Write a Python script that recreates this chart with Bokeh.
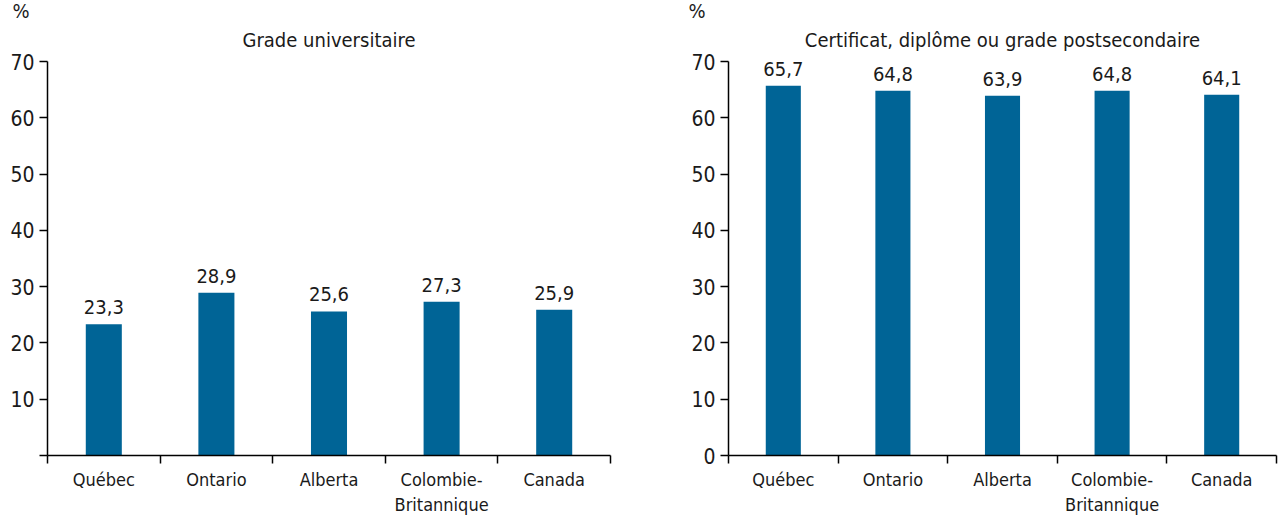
from bokeh.plotting import figure
from bokeh.layouts import row
from bokeh.models import Range1d, FixedTicker, Title, ColumnDataSource
from bokeh.core.properties import value
from bokeh.embed import file_html
from bokeh.resources import INLINE

categories = ["Québec", "Ontario", "Alberta", "Colombie-\nBritannique", "Canada"]
grade_univ = [23.3, 28.9, 25.6, 27.3, 25.9]
postsec = [65.7, 64.8, 63.9, 64.8, 64.1]
titles = ["Grade universitaire", "Certificat, diplôme ou grade postsecondaire"]
unit_label = "%"
y_ticks = [0, 10, 20, 30, 40, 50, 60, 70]

FONT = "DejaVu Sans Condensed"
FONT_V = value(FONT)
BAR = "#006496"
TXT = "#1a1a1a"


def panel(values, title, width, bl, br, show_zero, pct_offset):
    n = len(categories)
    p = figure(width=width, height=517, output_backend="svg", toolbar_location=None,
               x_range=Range1d(0, n), y_range=Range1d(0, 70),
               min_border_left=bl, min_border_right=br,
               min_border_top=61, min_border_bottom=59)
    # unit label (outer title row, left aligned)
    p.title.text = unit_label
    p.title.align = "left"
    p.title.text_font = FONT
    p.title.text_font_size = "20px"
    p.title.text_font_style = "normal"
    p.title.text_color = TXT
    p.title.offset = pct_offset
    p.title.standoff = -14
    p.outline_line_color = None
    p.grid.visible = False

    # panel title (inner title row, centred)
    t = Title(text=title, align="center", offset=0, standoff=20,
              text_font=FONT, text_font_size="20px", text_font_style="normal",
              text_color=TXT)
    p.add_layout(t, "above")

    xs = [i + 0.5 for i in range(n)]
    labels = [f"{v:.1f}".replace(".", ",") for v in values]
    src = ColumnDataSource(dict(x=xs, top=values, lab=labels))
    p.vbar(x="x", top="top", bottom=0, width=0.32, source=src,
           fill_color=BAR, line_color=None)
    p.text(x="x", y="top", text="lab", source=src, text_align="center",
           text_baseline="bottom", y_offset=-10, text_font=FONT_V,
           text_font_size="20px", text_color=TXT)

    xa = p.xaxis[0]
    xa.ticker = FixedTicker(ticks=xs, minor_ticks=list(range(n + 1)))
    xa.major_label_overrides = {x: c for x, c in zip(xs, categories)}
    xa.major_tick_out = 0
    xa.major_tick_in = 0
    xa.minor_tick_out = 8
    xa.minor_tick_in = 0
    xa.minor_tick_line_color = "black"
    xa.minor_tick_line_width = 1.5
    xa.axis_line_width = 1.5
    xa.axis_line_color = "black"
    xa.major_label_text_font = FONT
    xa.major_label_text_font_size = "18px"
    xa.major_label_text_color = TXT
    xa.major_label_standoff = 5

    ya = p.yaxis[0]
    ya.ticker = FixedTicker(ticks=y_ticks, minor_ticks=[])
    if not show_zero:
        ya.major_label_overrides = {0: ""}
    ya.major_tick_out = 8
    ya.major_tick_in = 0
    ya.major_tick_line_width = 1.5
    ya.axis_line_width = 1.5
    ya.axis_line_color = "black"
    ya.major_label_text_font = FONT
    ya.major_label_text_font_size = "21px"
    ya.major_label_text_color = TXT
    ya.major_label_standoff = 5
    return p


p1 = panel(grade_univ, titles[0], 640, 47, 30, False, -35)
p2 = panel(postsec, titles[1], 638, 88, 2, True, -40)
layout = row(p1, p2, spacing=0)

open("out.html", "w").write(file_html(layout, INLINE))
